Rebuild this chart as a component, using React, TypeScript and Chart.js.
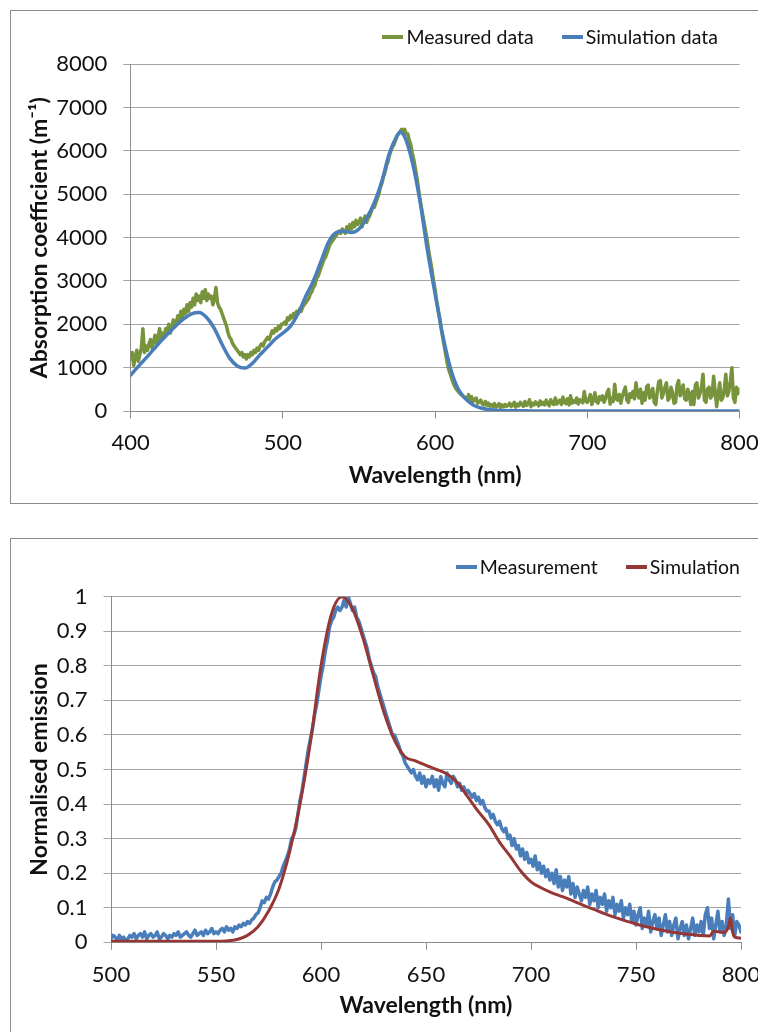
import React, { useEffect, useRef } from "react";
import { Chart, registerables } from "chart.js";

Chart.register(...registerables);

const FONT = "Lato, 'Open Sans', sans-serif";
const GRID = "#a3a3a3";
const AXIS = "#8c8c8c";
const TEXT = "#111111";

// ---------- Top chart: absorption ----------
const absMeasuredStart = 400;
const absMeasuredStep = 1;
const absMeasured = [
  1200, 1350, 1050, 1250, 1400, 1150, 1300, 1450, 1900, 1350,
  1500, 1400, 1550, 1650, 1450, 1600, 1750, 1550, 1700, 1900,
  1650, 1800, 1700, 1900, 1850, 2000, 1800, 1950, 2100, 1950,
  2050, 2200, 2100, 2300, 2150, 2350, 2250, 2450, 2300, 2500,
  2400, 2600, 2450, 2700, 2550, 2650, 2500, 2750, 2600, 2800,
  2550, 2700, 2600, 2650, 2450, 2600, 2850, 2500, 2400, 2350,
  2250, 2150, 2050, 1950, 1800, 1700, 1650, 1550, 1500, 1450,
  1400, 1350, 1300, 1350, 1250, 1300, 1200, 1300, 1250, 1350,
  1300, 1400, 1350, 1450, 1400, 1500, 1550, 1500, 1600, 1650,
  1700, 1650, 1750, 1850, 1800, 1900, 1850, 1950, 1900, 2000,
  2000, 2050, 2000, 2150, 2100, 2200, 2150, 2250, 2200, 2300,
  2250, 2350, 2300, 2400, 2450, 2500, 2550, 2600, 2700, 2750,
  2850, 2900, 3050, 3100, 3200, 3300, 3400, 3500, 3550, 3650,
  3750, 3850, 3900, 3950, 4000, 4050, 4100, 4150, 4100, 4200,
  4150, 4100, 4250, 4150, 4300, 4200, 4350, 4250, 4400, 4300,
  4350, 4450, 4250, 4400, 4500, 4350, 4450, 4500, 4600, 4700,
  4700, 4800, 4900, 5000, 5150, 5250, 5400, 5500, 5650, 5750,
  5900, 6000, 6100, 6150, 6250, 6350, 6400, 6450, 6500, 6450,
  6500, 6400, 6400, 6250, 6150, 5950, 5800, 5600, 5400, 5150,
  4900, 4700, 4500, 4300, 4100, 3900, 3650, 3450, 3250, 3000,
  2800, 2550, 2350, 2150, 1900, 1700, 1500, 1300, 1100, 950,
  850, 740, 640, 560, 500, 460, 420, 380, 350, 330,
  300, 280, 380, 240, 330, 220, 260, 300, 180, 210,
  250, 160, 140, 220, 130, 180, 110, 150, 100, 170,
  90, 120, 170, 80, 140, 100, 150, 110, 130, 180,
  100, 140, 200, 90, 160, 120, 200, 150, 110, 220,
  130, 160, 260, 100, 180, 140, 210, 170, 120, 230,
  150, 200, 140, 250, 170, 120, 260, 190, 150, 300,
  160, 220, 250, 150, 320, 200, 170, 280, 140, 350,
  180, 240, 200, 300, 160, 260, 220, 190, 450, 230,
  200, 280, 380, 150, 250, 420, 220, 180, 330, 260,
  350, 200, 280, 420, 500, 160, 300, 220, 620, 280,
  250, 380, 180, 330, 450, 550, 250, 200, 400, 320,
  450, 280, 650, 380, 300, 500, 180, 420, 250, 560,
  600, 300, 350, 520, 200, 150, 450, 680, 700, 300,
  400, 550, 650, 250, 300, 550, 420, 180, 200, 600,
  700, 350, 450, 600, 280, 250, 500, 380, 150, 450,
  150, 600, 650, 300, 400, 550, 850, 250, 200, 500,
  550, 300, 350, 800, 450, 100, 400, 650, 250, 300,
  500, 850, 350, 450, 700, 1000, 300, 200, 550, 400,
  500,
];

const absSimWavelength = [
  400, 405, 410, 415, 420, 425, 430, 435, 440, 445,
  450, 455, 460, 465, 470, 475, 480, 485, 490, 495,
  500, 505, 510, 515, 520, 525, 530, 535, 540, 545,
  550, 555, 560, 565, 570, 575, 577, 580, 585, 590, 595,
  600, 605, 610, 615, 620, 625, 630, 635, 640, 645,
  650, 655, 660, 665, 670, 675, 680, 685, 690, 695,
  700, 710, 720, 730, 740, 750, 760, 770, 780, 790, 800,
];
const absSim = [
  830, 1030, 1220, 1420, 1620, 1800, 1980, 2130, 2240, 2270,
  2150, 1900, 1540, 1220, 1040, 990, 1100, 1300, 1480, 1660,
  1800, 1960, 2250, 2650, 3000, 3450, 3900, 4120, 4150, 4120,
  4200, 4450, 4800, 5300, 5950, 6350, 6430, 6330, 5750, 4850, 3700,
  2700, 1750, 1000, 520, 280, 140, 70, 35, 18, 10,
  6, 4, 3, 2, 2, 1, 1, 1, 0, 0,
  0, 0, 0, 0, 0, 0, 0, 0, 0, 0, 0,
];

// ---------- Bottom chart: emission ----------
const emMeasuredStart = 500;
const emMeasuredStep = 1;
const emMeasured = [
  0.01, 0.02, 0.015, 0.005, 0.02, 0.01, 0.015, 0.005, 0.01, 0.02,
  0.015, 0.025, 0.01, 0.02, 0.025, 0.015, 0.03, 0.01, 0.02, 0.025,
  0.015, 0.02, 0.03, 0.01, 0.015, 0.025, 0.02, 0.01, 0.02, 0.015,
  0.025, 0.02, 0.03, 0.015, 0.02, 0.025, 0.03, 0.02, 0.015, 0.025,
  0.035, 0.02, 0.025, 0.03, 0.02, 0.035, 0.025, 0.03, 0.04, 0.025,
  0.03, 0.025, 0.035, 0.04, 0.03, 0.045, 0.035, 0.04, 0.03, 0.045,
  0.04, 0.05, 0.045, 0.055, 0.05, 0.06, 0.055, 0.065, 0.07, 0.08,
  0.085, 0.1, 0.12, 0.115, 0.13, 0.125, 0.14, 0.16, 0.175, 0.18,
  0.19, 0.2, 0.22, 0.235, 0.25, 0.27, 0.3, 0.31, 0.33, 0.37,
  0.41, 0.44, 0.48, 0.52, 0.56, 0.59, 0.62, 0.66, 0.69, 0.73,
  0.77, 0.8, 0.84, 0.87, 0.91, 0.93, 0.94, 0.96, 0.97, 0.96,
  0.97, 0.99, 0.97, 1.0, 0.98, 0.96, 0.97, 0.94, 0.93, 0.91,
  0.89, 0.87, 0.85, 0.82, 0.8, 0.78, 0.77, 0.74, 0.72, 0.7,
  0.68, 0.66, 0.64, 0.62, 0.6, 0.6, 0.585, 0.57, 0.55, 0.54,
  0.52, 0.51, 0.5, 0.49, 0.5, 0.48, 0.47, 0.49, 0.46, 0.48,
  0.45, 0.47, 0.46, 0.48, 0.45, 0.47, 0.44, 0.48, 0.46, 0.45,
  0.49, 0.47, 0.46, 0.48, 0.47, 0.45, 0.46, 0.44, 0.45, 0.43,
  0.44, 0.43, 0.42, 0.43, 0.41, 0.42, 0.4, 0.41, 0.39, 0.38,
  0.38, 0.36, 0.37, 0.35, 0.34, 0.35, 0.33, 0.32, 0.33, 0.3,
  0.31, 0.28, 0.3, 0.27, 0.28, 0.25, 0.27, 0.24, 0.26, 0.23,
  0.24, 0.22, 0.25, 0.21, 0.23, 0.2, 0.22, 0.19, 0.21, 0.18,
  0.2, 0.17, 0.21, 0.16, 0.19, 0.15, 0.18, 0.16, 0.19, 0.14,
  0.17, 0.13, 0.16, 0.14, 0.12, 0.15, 0.13, 0.16, 0.11, 0.14,
  0.12, 0.15, 0.1, 0.13, 0.11, 0.14, 0.09, 0.12, 0.1, 0.13,
  0.08, 0.11, 0.09, 0.12, 0.07, 0.1, 0.08, 0.11, 0.06, 0.09,
  0.05, 0.08, 0.1, 0.04, 0.07, 0.05, 0.09, 0.03, 0.06, 0.08,
  0.04, 0.07, 0.02, 0.05, 0.08, 0.03, 0.06, 0.02, 0.05, 0.07,
  0.01, 0.04, 0.06, 0.02, 0.05, 0.01, 0.04, 0.07, 0.02, 0.05,
  0.03, 0.06, 0.02, 0.08, 0.1, 0.04, 0.07, 0.01, 0.05, 0.09,
  0.03, 0.06, 0.02, 0.05, 0.125, 0.04, 0.08, 0.02, 0.06, 0.05,
  0.03,
];

const emSimWavelength = [
  500, 505, 510, 515, 520, 525, 530, 535, 540, 545,
  550, 555, 560, 565, 570, 575, 580, 585, 590, 595,
  600, 605, 610, 615, 620, 625, 630, 635, 640, 645,
  650, 655, 660, 665, 670, 675, 680, 685, 690, 695,
  700, 705, 710, 715, 720, 725, 730, 735, 740, 745,
  750, 755, 760, 765, 770, 775, 780, 785, 787, 790,
  792, 794, 795, 796, 797, 800,
];
const emSim = [
  0.003, 0.003, 0.003, 0.003, 0.003, 0.003, 0.003, 0.003, 0.003, 0.003,
  0.003, 0.004, 0.008, 0.02, 0.045, 0.09, 0.155, 0.26, 0.4, 0.58,
  0.8, 0.95, 1.0, 0.965, 0.88, 0.77, 0.665, 0.585, 0.537, 0.525,
  0.512, 0.5, 0.487, 0.462, 0.42, 0.378, 0.34, 0.29, 0.25, 0.207,
  0.175, 0.157, 0.143, 0.132, 0.12, 0.107, 0.095, 0.083, 0.072, 0.062,
  0.053, 0.045, 0.038, 0.032, 0.027, 0.023, 0.02, 0.018, 0.032, 0.03,
  0.028, 0.045, 0.07, 0.03, 0.015, 0.012,
];

const toPoints = (start: number, step: number, ys: number[]) =>
  ys.map((y, i) => ({ x: start + i * step, y }));
const zipPoints = (xs: number[], ys: number[]) => xs.map((x, i) => ({ x, y: ys[i] }));

type AxisSpec = {
  xMin: number; xMax: number; xStep: number;
  yMin: number; yMax: number; yStep: number;
  xTitle: string; yTitle: string;
  padTop: number; padRight: number;
  yWidth: number; xHeight: number;
  xTickPad: number; xTitlePad: number; yTitlePad: number;
  yFormat: (v: number) => string;
};

function buildOptions(s: AxisSpec): any {
  const tickFont = { family: FONT, size: 22 };
  const titleFont = { family: FONT, size: 23, weight: "bold" as const };
  return {
    responsive: false,
    animation: false,
    devicePixelRatio: 1,
    events: [],
    layout: { padding: { left: 0, top: s.padTop, right: s.padRight, bottom: 0 } },
    plugins: { legend: { display: false }, tooltip: { enabled: false } },
    elements: { point: { radius: 0 } },
    scales: {
      x: {
        type: "linear",
        position: "bottom",
        min: s.xMin,
        max: s.xMax,
        ticks: {
          stepSize: s.xStep,
          color: TEXT,
          font: tickFont,
          padding: s.xTickPad,
          maxRotation: 0,
          autoSkip: false,
        },
        grid: { drawOnChartArea: false, drawTicks: true, tickLength: 7.5, color: AXIS, lineWidth: 1 },
        border: { display: true, color: AXIS, width: 1 },
        title: {
          display: true,
          text: s.xTitle,
          color: TEXT,
          font: titleFont,
          padding: { top: 0, bottom: s.xTitlePad },
        },
        afterFit: (scale: any) => {
          scale.height = s.xHeight;
          scale.paddingLeft = 0;
          scale.paddingRight = 0;
        },
      },
      y: {
        type: "linear",
        position: "left",
        min: s.yMin,
        max: s.yMax,
        ticks: {
          stepSize: s.yStep,
          color: TEXT,
          font: tickFont,
          padding: 16,
          callback: (v: any) => s.yFormat(Number(v)),
        },
        grid: { drawOnChartArea: true, drawTicks: true, tickLength: 7.5, color: GRID, lineWidth: 1 },
        border: { display: true, color: AXIS, width: 1 },
        title: {
          display: true,
          text: s.yTitle,
          color: TEXT,
          font: titleFont,
          padding: { top: s.yTitlePad, bottom: 0 },
        },
        afterFit: (scale: any) => {
          scale.width = s.yWidth;
          scale.paddingTop = 0;
          scale.paddingBottom = 0;
        },
      },
    },
  };
}

function ChartCanvas({ top, width, height, makeConfig }: { top: number; width: number; height: number; makeConfig: () => any }) {
  const ref = useRef<HTMLCanvasElement | null>(null);
  useEffect(() => {
    if (!ref.current) return;
    const chart = new Chart(ref.current, makeConfig());
    return () => chart.destroy();
  }, []);
  return (
    <canvas
      ref={ref}
      width={width}
      height={height}
      style={{ position: "absolute", left: 0, top, width, height, display: "block" }}
    />
  );
}

const lineStyle = { borderJoinStyle: "round", borderCapStyle: "round", pointRadius: 0 };

const absConfig = () => ({
  type: "line",
  data: {
    datasets: [
      {
        label: "Measured data",
        data: toPoints(absMeasuredStart, absMeasuredStep, absMeasured),
        borderColor: "#77933C",
        borderWidth: 3.5,
        tension: 0,
        order: 1,
        ...lineStyle,
      },
      {
        label: "Simulation data",
        data: zipPoints(absSimWavelength, absSim),
        borderColor: "#4A7EBB",
        borderWidth: 3.5,
        cubicInterpolationMode: "monotone",
        order: 0,
        ...lineStyle,
      },
    ],
  },
  options: buildOptions({
    xMin: 400, xMax: 800, xStep: 100,
    yMin: 0, yMax: 8000, yStep: 1000,
    xTitle: "Wavelength (nm)",
    yTitle: "Absorption coefficient (m\u207B\u00B9)",
    padTop: 64.3, padRight: 18.5,
    yWidth: 130.7, xHeight: 109,
    xTickPad: 11.6, xTitlePad: 30.2, yTitlePad: 26.2,
    yFormat: (v) => String(Math.round(v)),
  }),
});

const emConfig = () => ({
  type: "line",
  data: {
    datasets: [
      {
        label: "Measurement",
        data: toPoints(emMeasuredStart, emMeasuredStep, emMeasured),
        borderColor: "#4A7EBB",
        borderWidth: 3.5,
        tension: 0,
        order: 1,
        ...lineStyle,
      },
      {
        label: "Simulation",
        data: zipPoints(emSimWavelength, emSim),
        borderColor: "#963735",
        borderWidth: 3,
        cubicInterpolationMode: "monotone",
        order: 0,
        ...lineStyle,
      },
    ],
  },
  options: buildOptions({
    xMin: 500, xMax: 800, xStep: 50,
    yMin: 0, yMax: 1, yStep: 0.1,
    xTitle: "Wavelength (nm)",
    yTitle: "Normalised emission",
    padTop: 76.7, padRight: 17,
    yWidth: 111, xHeight: 89.7,
    xTickPad: 12, xTitlePad: 12.2, yTitlePad: 26.2,
    yFormat: (v) => String(Math.round(v * 10) / 10),
  }),
});

function Legend({ top, right, items }: { top: number; right: number; items: { label: string; color: string }[] }) {
  return (
    <div
      style={{
        position: "absolute",
        top,
        right,
        display: "flex",
        alignItems: "center",
        gap: 28,
        fontFamily: FONT,
        fontSize: 19.5,
        color: TEXT,
        lineHeight: "22px",
        whiteSpace: "nowrap",
      }}
    >
      {items.map((it) => (
        <div key={it.label} style={{ display: "flex", alignItems: "center" }}>
          <span style={{ display: "inline-block", width: 21, height: 4, background: it.color, marginRight: 3 }} />
          <span>{it.label}</span>
        </div>
      ))}
    </div>
  );
}

export default function App() {
  return (
    <div
      style={{
        position: "fixed",
        left: 0,
        top: 0,
        width: 758,
        height: 1032,
        overflow: "hidden",
        background: "#ffffff",
      }}
    >
      <div style={{ position: "absolute", left: 10, top: 10, width: 800, height: 492, border: "1px solid #8c8c8c" }} />
      <div style={{ position: "absolute", left: 10, top: 538, width: 800, height: 520, border: "1px solid #8c8c8c" }} />
      <ChartCanvas top={0} width={758} height={520} makeConfig={absConfig} />
      <ChartCanvas top={520} width={758} height={512} makeConfig={emConfig} />
      <Legend
        top={26}
        right={40}
        items={[
          { label: "Measured data", color: "#77933C" },
          { label: "Simulation data", color: "#4A7EBB" },
        ]}
      />
      <Legend
        top={556}
        right={18}
        items={[
          { label: "Measurement", color: "#4A7EBB" },
          { label: "Simulation", color: "#963735" },
        ]}
      />
    </div>
  );
}
